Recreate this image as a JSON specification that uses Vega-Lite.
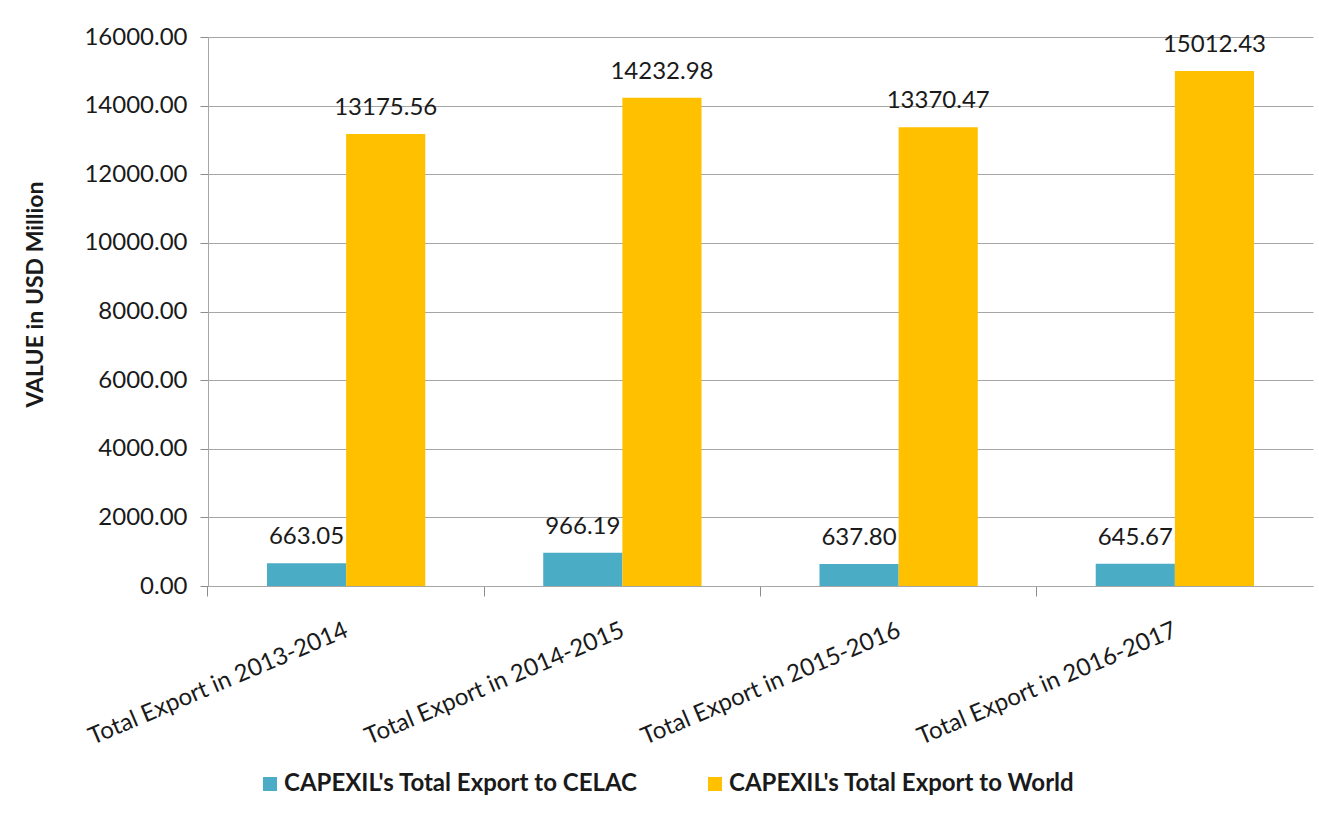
{
  "$schema": "https://vega.github.io/schema/vega-lite/v6.json",
  "width": 1105,
  "height": 549,
  "autosize": {"type": "none"},
  "padding": {"left": 208, "top": 37, "right": 6, "bottom": 238},
  "background": "white",
  "config": {
    "font": "Lato",
    "view": {"stroke": null},
    "axis": {"labelColor": "#1a1a1a", "titleColor": "#1a1a1a"}
  },
  "data": {
    "values": [
      {"period": "Total Export in 2013-2014", "series": "CAPEXIL's Total Export to CELAC", "value": 663.05},
      {"period": "Total Export in 2013-2014", "series": "CAPEXIL's Total Export to World", "value": 13175.56},
      {"period": "Total Export in 2014-2015", "series": "CAPEXIL's Total Export to CELAC", "value": 966.19},
      {"period": "Total Export in 2014-2015", "series": "CAPEXIL's Total Export to World", "value": 14232.98},
      {"period": "Total Export in 2015-2016", "series": "CAPEXIL's Total Export to CELAC", "value": 637.80},
      {"period": "Total Export in 2015-2016", "series": "CAPEXIL's Total Export to World", "value": 13370.47},
      {"period": "Total Export in 2016-2017", "series": "CAPEXIL's Total Export to CELAC", "value": 645.67},
      {"period": "Total Export in 2016-2017", "series": "CAPEXIL's Total Export to World", "value": 15012.43}
    ]
  },
  "encoding": {
    "x": {
      "field": "period",
      "type": "nominal",
      "sort": null,
      "scale": {"paddingInner": 0.427, "paddingOuter": 0.2135},
      "axis": {
        "title": null,
        "bandPosition": -0.3727,
        "tickSize": 10,
        "tickColor": "#8c8c8c",
        "domainColor": "#a6a6a6",
        "labelAngle": -23,
        "labelAlign": "right",
        "labelBaseline": "top",
        "labelPadding": 22,
        "labelOffset": -4,
        "labelFontSize": 24,
        "labelOverlap": false,
        "labelLimit": 0,
        "labelBound": false,
        "labelFlush": false,
        "grid": false
      }
    },
    "xOffset": {"field": "series", "type": "nominal", "sort": null},
    "y": {
      "field": "value",
      "type": "quantitative",
      "scale": {"domain": [0, 16000], "nice": false},
      "axis": {
        "title": "VALUE in USD Million",
        "titleFontSize": 23,
        "titleFontWeight": "bold",
        "titleX": -173,
        "titleY": 257,
        "titleAngle": -90,
        "titleAlign": "center",
        "titleBaseline": "middle",
        "values": [0, 2000, 4000, 6000, 8000, 10000, 12000, 14000, 16000],
        "format": ".2f",
        "labelFontSize": 24,
        "labelPadding": 13,
        "tickSize": 8,
        "tickColor": "#8c8c8c",
        "domainColor": "#a6a6a6",
        "gridColor": "#a6a6a6",
        "gridWidth": 1
      }
    }
  },
  "layer": [
    {
      "mark": {"type": "bar"},
      "encoding": {
        "color": {
          "field": "series",
          "type": "nominal",
          "sort": null,
          "scale": {"range": ["#4BACC6", "#FFC000"]},
          "legend": {
            "title": null,
            "orient": "none",
            "direction": "horizontal",
            "legendX": 50,
            "legendY": 735,
            "symbolType": "square",
            "symbolSize": 196,
            "symbolStrokeWidth": 0,
            "labelFontSize": 24,
            "labelFontWeight": "bold",
            "labelColor": "#1a1a1a",
            "labelOffset": 2,
            "labelLimit": 0,
            "columnPadding": 65
          }
        }
      }
    },
    {
      "mark": {"type": "text", "baseline": "alphabetic", "dy": -19, "fontSize": 24, "color": "#1a1a1a"},
      "encoding": {
        "text": {"field": "value", "type": "quantitative", "format": ".2f"}
      }
    }
  ]
}
